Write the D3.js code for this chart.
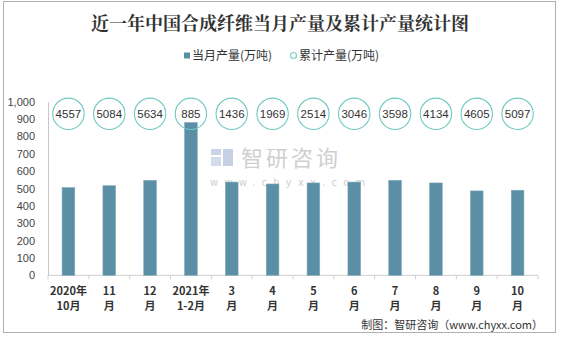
<!DOCTYPE html>
<html><head><meta charset="utf-8">
<script src="https://cdn.jsdelivr.net/npm/d3@7/dist/d3.min.js"></script>
<style>body{margin:0;background:#fff}svg{display:block}</style>
</head><body><svg id="c" width="561" height="337"></svg>
<script>
const categories = [["2020年","10月"],["11","月"],["12","月"],["2021年","1-2月"],["3","月"],["4","月"],["5","月"],["6","月"],["7","月"],["8","月"],["9","月"],["10","月"]];
const monthly = [505, 516, 547, 880, 537, 526, 532, 537, 547, 532, 486, 490];
const cumulative = [4557, 5084, 5634, 885, 1436, 1969, 2514, 3046, 3598, 4134, 4605, 5097];
const yTicks = [0,100,200,300,400,500,600,700,800,900,1000];
const circleLevel = 930;

const svg = d3.select("#c");
svg.append("rect").attr("x",3.5).attr("y",1.5).attr("width",552).attr("height",331).attr("fill","#fff").attr("stroke","#b0b0b0");

const x = d3.scaleBand().domain(d3.range(categories.length)).range([48, 538]).paddingInner(0.69).paddingOuter(0.345);
const y = d3.scaleLinear().domain([0,1000]).range([275.3, 101.7]);

// title
svg.append("text").attr("x",280).attr("y",30).attr("text-anchor","middle")
  .attr("font-family","'Noto Serif CJK SC','Noto Sans CJK SC',serif").attr("font-weight","bold").attr("font-size",18).attr("fill","#333")
  .text("近一年中国合成纤维当月产量及累计产量统计图");

// legend
const lg = svg.append("g").attr("font-family","'Noto Sans CJK SC',sans-serif").attr("font-size",12).attr("fill","#333");
lg.append("rect").attr("x",184).attr("y",52.5).attr("width",6).attr("height",6).attr("fill","#5a8fa5");
lg.append("text").attr("x",192).attr("y",60).text("当月产量(万吨)");
lg.append("circle").attr("cx",293.5).attr("cy",55.5).attr("r",3).attr("fill","none").attr("stroke","#7ecfc9").attr("stroke-width",1.2);
lg.append("text").attr("x",299).attr("y",60).text("累计产量(万吨)");

// watermark
const wm = svg.append("g").attr("fill","#cfcfcf");
wm.append("rect").attr("x",211).attr("y",149).attr("width",10).attr("height",6).attr("fill","#c9d3e6");
wm.append("rect").attr("x",211).attr("y",157).attr("width",10).attr("height",9).attr("fill","#d4dbe9");
wm.append("rect").attr("x",223).attr("y",149).attr("width",10).attr("height",17).attr("fill","#c6d0e4");
wm.append("text").attr("x",241).attr("y",166).attr("font-family","'Noto Sans CJK SC',sans-serif").attr("font-size",22).attr("letter-spacing",3).text("智研咨询");
wm.append("text").attr("x",210).attr("y",186).attr("font-family","'DejaVu Sans',sans-serif").attr("font-size",10).attr("letter-spacing",6.2).text("www.chyxx.com");

// y axis
const ya = svg.append("g").attr("transform","translate(48,0)")
  .call(d3.axisLeft(y).tickValues(yTicks).tickSize(0).tickPadding(13).tickFormat(d3.format(",")));
ya.select(".domain").attr("stroke","#c8c8c8");
ya.selectAll("text").attr("font-family","'Liberation Sans',Arial,sans-serif").attr("font-size",11).attr("fill","#444");

// x axis
const xa = svg.append("g").attr("transform","translate(0,275.3)");
xa.append("line").attr("x1",48).attr("x2",538).attr("stroke","#d0d0d0");
const step = x.step();
xa.selectAll("line.t").data(d3.range(categories.length+1)).join("line").attr("class","t")
  .attr("x1",(d)=>48+d*step).attr("x2",(d)=>48+d*step).attr("y1",0).attr("y2",4).attr("stroke","#d0d0d0");
const xl = xa.selectAll("text.l").data(categories).join("text").attr("class","l")
  .attr("text-anchor","middle").attr("font-family","'Noto Sans CJK SC',sans-serif").attr("font-weight","bold").attr("font-size",11).attr("fill","#333");
xl.each(function(d,i){
  const t = d3.select(this);
  const cx = x(i)+x.bandwidth()/2;
  t.append("tspan").attr("x",cx).attr("y",20).text(d[0]);
  t.append("tspan").attr("x",cx).attr("y",35).text(d[1]);
});

// bars
svg.selectAll("rect.bar").data(monthly).join("rect").attr("class","bar")
  .attr("x",(d,i)=>x(i)).attr("width",x.bandwidth())
  .attr("y",d=>y(d)).attr("height",d=>y(0)-y(d))
  .attr("fill","#5a8fa5").attr("stroke","#7fa9ba").attr("stroke-width",0.6);

// cumulative circles
const cg = svg.selectAll("g.cum").data(cumulative).join("g").attr("class","cum")
  .attr("transform",(d,i)=>`translate(${x(i)+x.bandwidth()/2},${y(circleLevel)})`);
cg.append("circle").attr("r",15.7).attr("fill","none").attr("stroke","#6fc9c2").attr("stroke-width",1.1);
cg.append("text").attr("text-anchor","middle").attr("dy","0.36em").attr("font-family","'Liberation Sans',Arial,sans-serif").attr("font-size",11.5).attr("fill","#333").text(d=>d);

// source
svg.append("text").attr("x",543).attr("y",329).attr("text-anchor","end")
  .attr("font-family","'Noto Sans CJK SC',sans-serif").attr("font-size",11).attr("fill","#333")
  .text("制图：智研咨询（www.chyxx.com）");
</script></body></html>
